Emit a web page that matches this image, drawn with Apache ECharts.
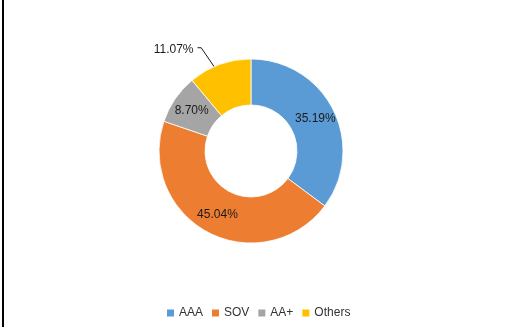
<!DOCTYPE html>
<html>
<head>
<meta charset="utf-8">
<script src="https://cdn.jsdelivr.net/npm/echarts@6/dist/echarts.min.js"></script>
<style>
  html, body { margin: 0; padding: 0; background: #fff; }
  #wrap { position: relative; width: 513px; height: 327px; overflow: hidden; }
  #chart { position: absolute; left: 0; top: 0; width: 513px; height: 327px; }
  #frame { position: absolute; left: 2px; top: 0; width: 2px; height: 327px; background: #000; }
</style>
</head>
<body>
<div id="wrap">
  <div id="chart"></div>
  <div id="frame"></div>
</div>
<script>
// Portfolio split by rating
const categories = ['AAA', 'SOV', 'AA+', 'Others'];
const shares = [35.19, 45.04, 8.70, 11.07];
const colors = ['#5B9BD5', '#ED7D31', '#A5A5A5', '#FFC000'];

const chart = echarts.init(document.getElementById('chart'), null, { renderer: 'canvas' });
const FONT = '"Liberation Sans", Arial, sans-serif';
const CALLOUT = 'Others'; // slice whose label sits outside with a leader line

const pieData = categories.map(function (name, i) {
  const item = { name: name, value: shares[i], itemStyle: { color: colors[i] } };
  if (name === CALLOUT) {
    item.label = { position: 'outside' };
    item.labelLine = { show: true, length: 10, length2: 4 };
  }
  return item;
});

// Leader line for the callout: from the middle of the ring, up-left to a short
// horizontal tick, with the label right-aligned at its end.
function calloutLayout(params) {
  if (categories[params.dataIndex] !== CALLOUT) return {};
  const data = chart.getModel().getSeriesByIndex(0).getData();
  const lay = data.getItemLayout(params.dataIndex);
  const mid = (lay.startAngle + lay.endAngle) / 2;
  const rm = (lay.r + lay.r0) / 2;
  const p0 = [lay.cx + rm * Math.cos(mid), lay.cy + rm * Math.sin(mid)];
  const p1 = [p0[0] - 26.3, p0[1] - 38.4];
  const p2 = [p1[0] - 3.7, p1[1]];
  return {
    x: p2[0] - 4,
    y: p2[1] + 1.5,
    align: 'right',
    verticalAlign: 'middle',
    labelLinePoints: [p0, p1, p2]
  };
}

chart.setOption({
  animation: false,
  color: colors,
  legend: {
    data: categories,
    left: 167,
    top: 307,
    padding: 0,
    itemWidth: 7,
    itemHeight: 7,
    itemGap: 9,
    icon: 'rect',
    itemStyle: { borderWidth: 0 },
    selectedMode: false,
    textStyle: { fontFamily: FONT, fontSize: 12, color: '#333333' }
  },
  series: [{
    type: 'pie',
    center: [251, 151],
    radius: [46, 92],
    startAngle: 90,
    clockwise: true,
    avoidLabelOverlap: false,
    silent: true,
    itemStyle: { borderColor: '#fff', borderWidth: 0.8 },
    label: {
      show: true,
      position: 'inside',
      fontFamily: FONT,
      fontSize: 12,
      color: '#1a1a1a',
      formatter: function (p) { return p.value.toFixed(2) + '%'; }
    },
    labelLine: { show: false, lineStyle: { color: '#1a1a1a', width: 1 } },
    labelLayout: calloutLayout,
    emphasis: { disabled: true },
    data: pieData
  }]
});
</script>
</body>
</html>
